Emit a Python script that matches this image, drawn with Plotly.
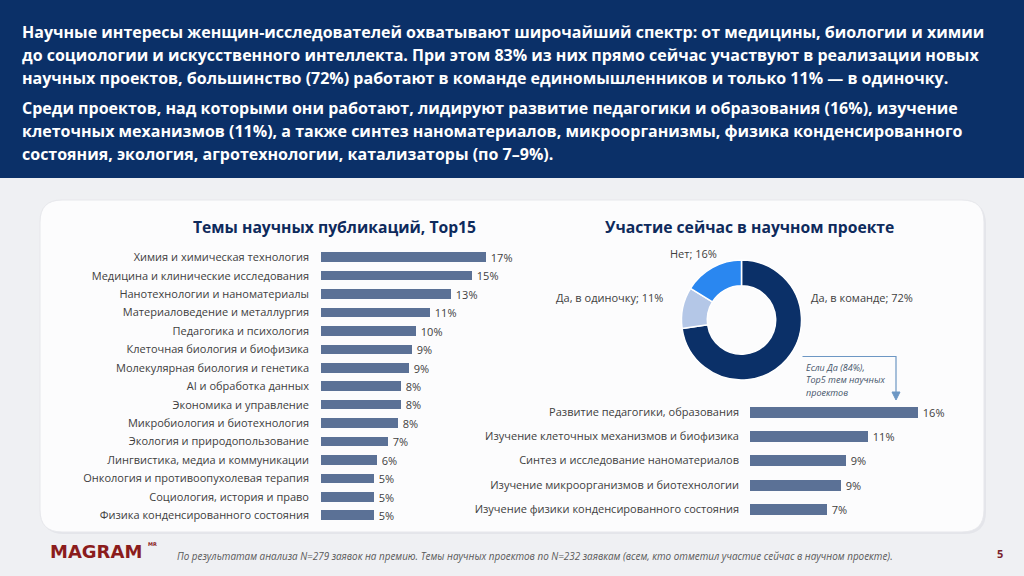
import plotly.graph_objects as go

W, H = 1024, 576

# ---------------- data ----------------
header_lines_1 = [
    "Научные интересы женщин-исследователей охватывают широчайший спектр: от медицины, биологии и химии",
    "до социологии и искусственного интеллекта. При этом 83% из них прямо сейчас участвуют в реализации новых",
    "научных проектов, большинство (72%) работают в команде единомышленников и только 11% — в одиночку.",
]
header_lines_2 = [
    "Среди проектов, над которыми они работают, лидируют развитие педагогики и образования (16%), изучение",
    "клеточных механизмов (11%), а также синтез наноматериалов, микроорганизмы, физика конденсированного",
    "состояния, экология, агротехнологии, катализаторы (по 7–9%).",
]

pub_title = "Темы научных публикаций, Top15"
pub_topics = [
    "Химия и химическая технология",
    "Медицина и клинические исследования",
    "Нанотехнологии и наноматериалы",
    "Материаловедение и металлургия",
    "Педагогика и психология",
    "Клеточная биология и биофизика",
    "Молекулярная биология и генетика",
    "AI и обработка данных",
    "Экономика и управление",
    "Микробиология и биотехнология",
    "Экология и природопользование",
    "Лингвистика, медиа и коммуникации",
    "Онкология и противоопухолевая терапия",
    "Социология, история и право",
    "Физика конденсированного состояния",
]
pub_share = [16.8, 15.4, 13.3, 11.1, 9.7, 9.3, 9.0, 8.2, 8.2, 7.9, 6.8, 5.7, 5.4, 5.4, 5.4]

part_title = "Участие сейчас в научном проекте"
part_labels = ["Да, в команде", "Да, в одиночку", "Нет"]
part_share = [72, 11, 16]
part_colors = ["#0b3068", "#b4c7e7", "#2a87f0"]

proj_topics = [
    "Развитие педагогики, образования",
    "Изучение клеточных механизмов и биофизика",
    "Синтез и исследование наноматериалов",
    "Изучение микроорганизмов и биотехнологии",
    "Изучение физики конденсированного состояния",
]
proj_share = [15.9, 11.2, 9.1, 8.6, 7.3]
proj_note = ["Если Да (84%),", "Top5 тем научных", "проектов"]

footnote = ("По результатам анализа N=279 заявок на премию. Темы научных проектов по N=232 заявкам "
            "(всем, кто отметил участие сейчас в научном проекте).")
page_no = "5"
logo = "MAGRAM"

# ---------------- helpers ----------------
def px(x):
    return x / W

def py(y):
    return 1 - y / H

def rounded_rect(x0, y0, x1, y1, r):
    rx, ry = r / W, r / H
    X0, X1 = px(x0), px(x1)
    Y0, Y1 = py(y0), py(y1)  # Y0 top (bigger), Y1 bottom
    return (f"M {X0+rx},{Y0} L {X1-rx},{Y0} Q {X1},{Y0} {X1},{Y0-ry} "
            f"L {X1},{Y1+ry} Q {X1},{Y1} {X1-rx},{Y1} "
            f"L {X0+rx},{Y1} Q {X0},{Y1} {X0},{Y1+ry} "
            f"L {X0},{Y0-ry} Q {X0},{Y0} {X0+rx},{Y0} Z")

FONT = "Open Sans"
TXT = "#404040"
BAR = "#5b7196"
NAVY_T = "#0e2a5c"

fig = go.Figure()

# left bars
fig.add_trace(go.Bar(
    x=pub_share, y=pub_topics, orientation="h",
    marker=dict(color=BAR, line=dict(width=0)), width=0.52,
    texttemplate="\u2009%{x:.0f}%", textposition="outside", cliponaxis=False,
    constraintext="none",
    textfont=dict(family=FONT, size=11, color=TXT),
    xaxis="x", yaxis="y", hoverinfo="skip", showlegend=False,
))

# right bars
fig.add_trace(go.Bar(
    x=proj_share, y=proj_topics, orientation="h",
    marker=dict(color=BAR, line=dict(width=0)), width=0.46,
    texttemplate="\u2009%{x:.0f}%", textposition="outside", cliponaxis=False,
    constraintext="none",
    textfont=dict(family=FONT, size=11, color=TXT),
    xaxis="x2", yaxis="y2", hoverinfo="skip", showlegend=False,
))

# donut
fig.add_trace(go.Pie(
    labels=part_labels, values=part_share, hole=0.57, sort=False,
    direction="clockwise", rotation=0,
    marker=dict(colors=part_colors, line=dict(color="white", width=1.5)),
    textinfo="none", hoverinfo="skip", showlegend=False,
    domain=dict(x=[px(681.5), px(801.5)], y=[py(380), py(260)]),
))

axis_common = dict(showgrid=False, zeroline=False, showline=False, fixedrange=True)

fig.update_layout(
    width=W, height=H,
    margin=dict(l=0, r=0, t=0, b=0),
    paper_bgcolor="#eff0f3", plot_bgcolor="rgba(0,0,0,0)",
    bargap=0,
    xaxis=dict(domain=[px(321), px(521)], range=[0, 200 / 9.8], showticklabels=False, **axis_common),
    yaxis=dict(domain=[py(524.5), py(248.1)], autorange="reversed", ticks="",
               tickfont=dict(family=FONT, size=11, color=TXT), ticklabelstandoff=11,
               anchor="x", **axis_common),
    xaxis2=dict(domain=[px(750), px(970)], range=[0, 220 / 10.55], showticklabels=False,
                anchor="y2", **axis_common),
    yaxis2=dict(domain=[py(521.2), py(399.5)], autorange="reversed", ticks="",
                tickfont=dict(family=FONT, size=11, color=TXT), ticklabelstandoff=10,
                anchor="x2", **axis_common),
)

shapes = [
    dict(type="rect", xref="paper", yref="paper", x0=0, x1=1, y0=py(178), y1=1,
         fillcolor="#0b3068", line=dict(width=0), layer="below"),
    dict(type="path", xref="paper", yref="paper", path=rounded_rect(42, 202, 986, 534, 22),
         fillcolor="#e4e5ea", line=dict(width=0), layer="below"),
    dict(type="path", xref="paper", yref="paper", path=rounded_rect(40, 200, 984, 532, 22),
         fillcolor="#fcfcfd", line=dict(color="#e6e7eb", width=1), layer="below"),
    # note connector
    dict(type="path", xref="paper", yref="paper",
         path=f"M {px(802.5)},{py(356.5)} L {px(896)},{py(356.5)} L {px(896)},{py(394)}",
         line=dict(color="#6d97c4", width=1.2)),
    dict(type="path", xref="paper", yref="paper",
         path=f"M {px(892)},{py(392)} L {px(900)},{py(392)} L {px(896)},{py(400)} Z",
         fillcolor="#6d97c4", line=dict(color="#6d97c4", width=1)),
]
fig.update_layout(shapes=shapes)

ann = []
def add_text(x, y, text, size, color, xanchor="left", bold=False, italic=False, family=FONT):
    t = text
    if bold:
        t = f"<b>{t}</b>"
    if italic:
        t = f"<i>{t}</i>"
    ann.append(dict(x=px(x), y=py(y), xref="paper", yref="paper", text=t, showarrow=False,
                    xanchor=xanchor, yanchor="middle",
                    font=dict(family=family, size=size, color=color)))

for i, line in enumerate(header_lines_1):
    add_text(20, 32 + 23 * i, line, 16, "white", bold=True)
for i, line in enumerate(header_lines_2):
    add_text(20, 108 + 23 * i, line, 16, "white", bold=True)

add_text(334.5, 227, pub_title, 15.7, NAVY_T, xanchor="center", bold=True)
add_text(749, 226.5, part_title, 15.7, NAVY_T, xanchor="center", bold=True)

# donut labels
add_text(693, 253, f"{part_labels[2]}; {part_share[2]}%", 11, TXT, xanchor="center")
add_text(665, 297, f"{part_labels[1]}; {part_share[1]}%", 11, TXT, xanchor="right")
add_text(809, 297, f"{part_labels[0]}; {part_share[0]}%", 11, TXT, xanchor="left")

for i, line in enumerate(proj_note):
    add_text(804, 367 + 12.5 * i, line, 9, "#44546a", italic=True)

add_text(175, 556, footnote, 9.9, "#595959", italic=True)
add_text(1000, 553, page_no, 11, "#7a1f2b", xanchor="center", bold=True)
add_text(48, 551, logo, 18, "#8b1c1c", bold=True, family="DejaVu Sans")
add_text(146, 544, "MR", 5, "#8b1c1c", bold=True, family="DejaVu Sans")

fig.update_layout(annotations=ann)

fig.write_html("out.html")
